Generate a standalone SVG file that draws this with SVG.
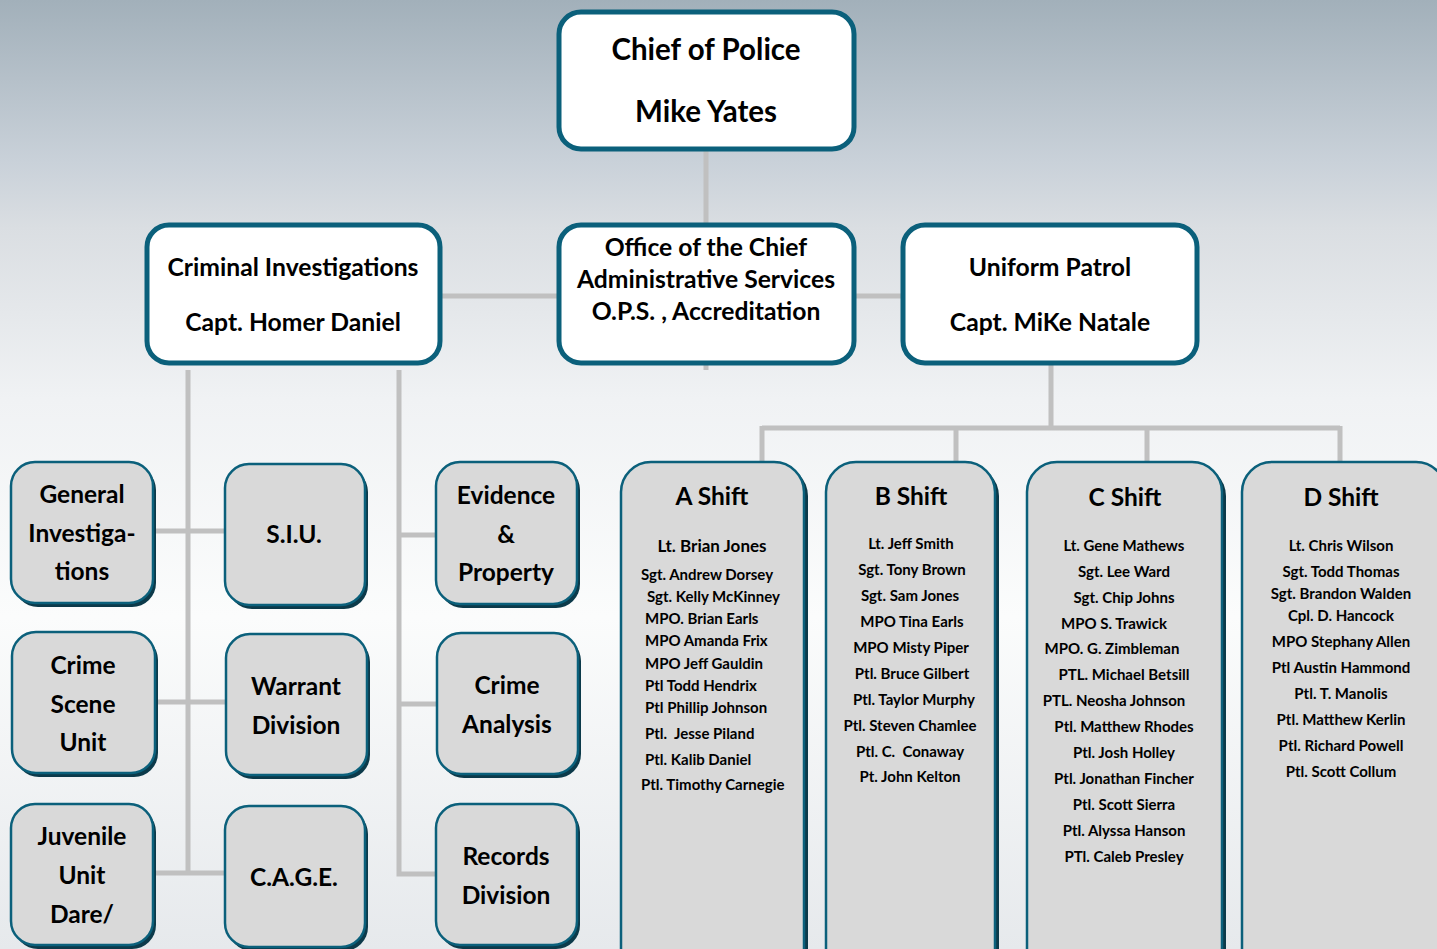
<svg xmlns="http://www.w3.org/2000/svg" width="1437" height="949" viewBox="0 0 1437 949">
<defs>
<linearGradient id="bg" x1="0" y1="0" x2="0" y2="1">
<stop offset="0" stop-color="#a2b0ba"/>
<stop offset="0.17" stop-color="#c9d1d9"/>
<stop offset="0.24" stop-color="#dadee2"/>
<stop offset="0.42" stop-color="#f0f2f4"/>
<stop offset="0.65" stop-color="#fbfcfc"/>
<stop offset="1" stop-color="#e6e9ec"/>
</linearGradient>
</defs>
<style>
.top{fill:#ffffff;stroke:#0b607b;stroke-width:5}
.box{fill:#d9d9d9;stroke:#0b607b;stroke-width:2.5}
.sh{fill:#0c3a4a}
.ln{stroke:#c0c0c0;stroke-width:5;fill:none}
text{font-family:Lato,"Liberation Sans",sans-serif;font-weight:bold;fill:#000;text-anchor:middle}
.t1{font-size:29.5px}
.t2{font-size:24.7px}
.t3{font-size:24.5px}
.nm{font-size:15px}
.nmL{font-size:15px;text-anchor:start}
</style>
<rect x="0" y="0" width="1437" height="949" fill="url(#bg)"/>
<g id="connectors">
<path class="ln" d="M706 150 V370"/>
<path class="ln" d="M441 296 H902"/>
<path class="ln" d="M188 370 V873 M155 531 H225 M155 702 H226 M155 873 H225"/>
<path class="ln" d="M399 370 V874 H436 M399 535 H436 M399 704 H437"/>
<path class="ln" d="M1051 364 V428 M762 428 H1340 M762 426 V462 M956 426 V462 M1147 426 V462 M1340 426 V462"/>
</g>
<g id="chief">
<rect class="top" x="559" y="12" width="295" height="137" rx="22"/>
<text class="t1" x="706" y="60">Chief of Police</text>
<text class="t1" x="706" y="122">Mike Yates</text>
</g>
<g id="office">
<rect class="top" x="559" y="225" width="295" height="138" rx="22"/>
<text class="t2" x="706" y="256">Office of the Chief</text>
<text class="t2" x="706" y="288">Administrative Services</text>
<text class="t2" x="706" y="320">O.P.S. , Accreditation</text>
</g>
<g id="criminal">
<rect class="top" x="147" y="225" width="293" height="138" rx="22"/>
<text class="t2" x="293" y="276">Criminal Investigations</text>
<text class="t2" x="293" y="331">Capt. Homer Daniel</text>
</g>
<g id="uniform">
<rect class="top" x="903" y="225" width="294" height="138" rx="22"/>
<text class="t2" x="1050" y="276">Uniform Patrol</text>
<text class="t2" x="1050" y="331">Capt. MiKe Natale</text>
</g>
<g id="general">
<rect class="sh" x="14" y="466" width="142" height="141" rx="24"/>
<rect class="box" x="11" y="462" width="142" height="141" rx="24"/>
<text class="t3" x="82" y="503">General</text>
<text class="t3" x="82" y="542">Investiga-</text>
<text class="t3" x="82" y="580">tions</text>
</g>
<g id="siu">
<rect class="sh" x="228" y="468" width="140" height="141" rx="24"/>
<rect class="box" x="225" y="464" width="140" height="141" rx="24"/>
<text class="t3" x="294" y="543">S.I.U.</text>
</g>
<g id="evidence">
<rect class="sh" x="439" y="466" width="141" height="142" rx="24"/>
<rect class="box" x="436" y="462" width="141" height="142" rx="24"/>
<text class="t3" x="506" y="504">Evidence</text>
<text class="t3" x="506" y="543">&amp;</text>
<text class="t3" x="506" y="581">Property</text>
</g>
<g id="crimescene">
<rect class="sh" x="15" y="636" width="143" height="141" rx="24"/>
<rect class="box" x="12" y="632" width="143" height="141" rx="24"/>
<text class="t3" x="83" y="674">Crime</text>
<text class="t3" x="83" y="713">Scene</text>
<text class="t3" x="83" y="751">Unit</text>
</g>
<g id="warrant">
<rect class="sh" x="229" y="638" width="141" height="141" rx="24"/>
<rect class="box" x="226" y="634" width="141" height="141" rx="24"/>
<text class="t3" x="296" y="695">Warrant</text>
<text class="t3" x="296" y="734">Division</text>
</g>
<g id="crimeanalysis">
<rect class="sh" x="440" y="637" width="141" height="141" rx="24"/>
<rect class="box" x="437" y="633" width="141" height="141" rx="24"/>
<text class="t3" x="507" y="694">Crime</text>
<text class="t3" x="507" y="733">Analysis</text>
</g>
<g id="juvenile">
<rect class="sh" x="14" y="808" width="142" height="141" rx="24"/>
<rect class="box" x="11" y="804" width="142" height="141" rx="24"/>
<text class="t3" x="82" y="845">Juvenile</text>
<text class="t3" x="82" y="884">Unit</text>
<text class="t3" x="82" y="923">Dare/</text>
</g>
<g id="cage">
<rect class="sh" x="228" y="810" width="140" height="141" rx="24"/>
<rect class="box" x="225" y="806" width="140" height="141" rx="24"/>
<text class="t3" x="294" y="886">C.A.G.E.</text>
</g>
<g id="records">
<rect class="sh" x="439" y="808" width="141" height="141" rx="24"/>
<rect class="box" x="436" y="804" width="141" height="141" rx="24"/>
<text class="t3" x="506" y="865">Records</text>
<text class="t3" x="506" y="904">Division</text>
</g>
<g id="ashift">
<path class="sh" d="M624 960 V496 a30 30 0 0 1 30 -30 H778 a30 30 0 0 1 30 30 V960 Z"/>
<path class="box" d="M621 960 V492 a30 30 0 0 1 30 -30 H774 a30 30 0 0 1 30 30 V960 Z"/>
<text class="t3" x="712" y="505">A Shift</text>
<text class="nm" x="712" y="552" style="font-size:17px">Lt. Brian Jones</text>
<text class="nmL" x="641" y="580">Sgt. Andrew Dorsey</text>
<text class="nmL" x="647" y="602">Sgt. Kelly McKinney</text>
<text class="nmL" x="645" y="624">MPO. Brian Earls</text>
<text class="nmL" x="645" y="646">MPO Amanda Frix</text>
<text class="nmL" x="645" y="669">MPO Jeff Gauldin</text>
<text class="nmL" x="645" y="691">Ptl Todd Hendrix</text>
<text class="nmL" x="645" y="713">Ptl Phillip Johnson</text>
<text class="nmL" x="645" y="739" xml:space="preserve">Ptl.  Jesse Piland</text>
<text class="nmL" x="645" y="765">Ptl. Kalib Daniel</text>
<text class="nmL" x="641" y="790">Ptl. Timothy Carnegie</text>
</g>
<g id="bshift">
<path class="sh" d="M829 960 V496 a30 30 0 0 1 30 -30 H969 a30 30 0 0 1 30 30 V960 Z"/>
<path class="box" d="M826 960 V492 a30 30 0 0 1 30 -30 H965 a30 30 0 0 1 30 30 V960 Z"/>
<text class="t3" x="911" y="505">B Shift</text>
<text class="nm" x="911" y="549">Lt. Jeff Smith</text>
<text class="nm" x="912" y="575">Sgt. Tony Brown</text>
<text class="nm" x="910" y="601">Sgt. Sam Jones</text>
<text class="nm" x="912" y="627">MPO Tina Earls</text>
<text class="nm" x="911" y="653">MPO Misty Piper</text>
<text class="nm" x="912" y="679">Ptl. Bruce Gilbert</text>
<text class="nm" x="914" y="705">Ptl. Taylor Murphy</text>
<text class="nm" x="910" y="731">Ptl. Steven Chamlee</text>
<text class="nm" x="910" y="757" xml:space="preserve">Ptl. C.  Conaway</text>
<text class="nm" x="910" y="782">Pt. John Kelton</text>
</g>
<g id="cshift">
<path class="sh" d="M1030 960 V496 a30 30 0 0 1 30 -30 H1196 a30 30 0 0 1 30 30 V960 Z"/>
<path class="box" d="M1027 960 V492 a30 30 0 0 1 30 -30 H1192 a30 30 0 0 1 30 30 V960 Z"/>
<text class="t3" x="1125" y="506">C Shift</text>
<text class="nm" x="1124" y="551">Lt. Gene Mathews</text>
<text class="nm" x="1124" y="577">Sgt. Lee Ward</text>
<text class="nm" x="1124" y="603">Sgt. Chip Johns</text>
<text class="nm" x="1114" y="629">MPO S. Trawick</text>
<text class="nm" x="1112" y="654">MPO. G. Zimbleman</text>
<text class="nm" x="1124" y="680">PTL. Michael Betsill</text>
<text class="nm" x="1114" y="706">PTL. Neosha Johnson</text>
<text class="nm" x="1124" y="732">Ptl. Matthew Rhodes</text>
<text class="nm" x="1124" y="758">Ptl. Josh Holley</text>
<text class="nm" x="1124" y="784">Ptl. Jonathan Fincher</text>
<text class="nm" x="1124" y="810">Ptl. Scott Sierra</text>
<text class="nm" x="1124" y="836">Ptl. Alyssa Hanson</text>
<text class="nm" x="1124" y="862">PTl. Caleb Presley</text>
</g>
<g id="dshift">
<path class="sh" d="M1245 960 V496 a30 30 0 0 1 30 -30 H1420 a30 30 0 0 1 30 30 V960 Z"/>
<path class="box" d="M1242 960 V492 a30 30 0 0 1 30 -30 H1416 a30 30 0 0 1 30 30 V960 Z"/>
<text class="t3" x="1341" y="506">D Shift</text>
<text class="nm" x="1341" y="551">Lt. Chris Wilson</text>
<text class="nm" x="1341" y="577">Sgt. Todd Thomas</text>
<text class="nm" x="1341" y="599">Sgt. Brandon Walden</text>
<text class="nm" x="1341" y="621">Cpl. D. Hancock</text>
<text class="nm" x="1341" y="647">MPO Stephany Allen</text>
<text class="nm" x="1341" y="673">Ptl Austin Hammond</text>
<text class="nm" x="1341" y="699">Ptl. T. Manolis</text>
<text class="nm" x="1341" y="725">Ptl. Matthew Kerlin</text>
<text class="nm" x="1341" y="751">Ptl. Richard Powell</text>
<text class="nm" x="1341" y="777">Ptl. Scott Collum</text>
</g>
</svg>
